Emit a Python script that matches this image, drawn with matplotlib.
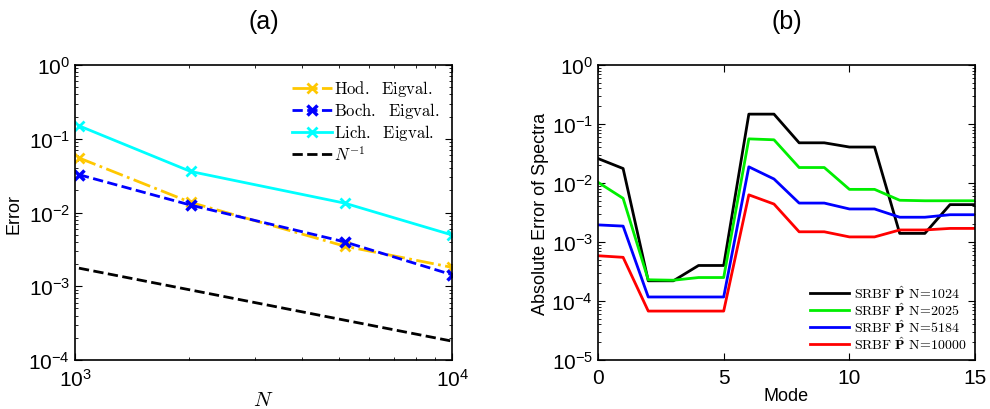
import matplotlib
matplotlib.use('Agg')
import matplotlib.pyplot as plt
from matplotlib.ticker import LogLocator, NullFormatter

plt.rcParams['mathtext.fontset'] = 'cm'
plt.rcParams['font.family'] = ['Liberation Sans', 'DejaVu Sans']

# (a) convergence data
N = [1024, 2025, 5184, 10000]
hod = [0.055, 0.0137, 0.0035, 0.0018]
boch = [0.0326, 0.0126, 0.0040, 0.00143]
lich = [0.150, 0.036, 0.0134, 0.00495]
n_inv = [0.00176, 0.00089, 0.000347, 0.00018]

# (b) spectra errors per mode
modes = list(range(16))
err_1024 = [0.026, 0.0176, 2.2e-4, 2.2e-4, 4.0e-4, 4.0e-4, 0.147, 0.147,
            0.048, 0.048, 0.0407, 0.0407, 1.4e-3, 1.4e-3, 4.3e-3, 4.3e-3]
err_2025 = [0.0103, 5.5e-3, 2.29e-4, 2.25e-4, 2.5e-4, 2.5e-4, 0.056, 0.054,
            0.0183, 0.0183, 7.8e-3, 7.8e-3, 5.1e-3, 5.0e-3, 5.0e-3, 5.0e-3]
err_5184 = [1.95e-3, 1.86e-3, 1.17e-4, 1.17e-4, 1.17e-4, 1.17e-4, 0.0188, 0.0117,
            4.57e-3, 4.57e-3, 3.63e-3, 3.63e-3, 2.63e-3, 2.63e-3, 2.9e-3, 2.9e-3]
err_10000 = [5.85e-4, 5.5e-4, 6.75e-5, 6.75e-5, 6.75e-5, 6.75e-5, 6.3e-3, 4.4e-3,
             1.49e-3, 1.49e-3, 1.22e-3, 1.22e-3, 1.6e-3, 1.6e-3, 1.7e-3, 1.7e-3]

fig = plt.figure(figsize=(9.9, 4.1), dpi=100)
ax1 = fig.add_axes([0.0758, 0.1195, 0.381, 0.7195])
ax2 = fig.add_axes([0.604, 0.1195, 0.381, 0.7195])

ax1.loglog(N, hod, color='#ffc800', linestyle='-.', marker='x', ms=7, mew=2, lw=2,
           label=r'$\mathrm{Hod.\ \ Eigval.}$')
ax1.loglog(N, boch, color='#0000ff', linestyle='--', marker='x', ms=7, mew=2.5, lw=2,
           label=r'$\mathrm{Boch.\ \ Eigval.}$')
ax1.loglog(N, lich, color='#00ffff', linestyle='-', marker='x', ms=7, mew=2, lw=2,
           label=r'$\mathrm{Lich.\ \ Eigval.}$')
ax1.loglog(N, n_inv, color='black', linestyle='--', lw=2, label=r'$N^{-1}$')
ax1.set_xlim(1000, 10000)
ax1.set_ylim(1e-4, 1)
ax1.set_xlabel(r'$N$', fontsize=15, labelpad=0)
ax1.set_ylabel('Error', fontsize=13, labelpad=4)
ax1.set_title('(a)', fontsize=18, pad=27)
ax1.legend(loc='upper right', frameon=False, fontsize=12, handlelength=2.4,
           handletextpad=0.1, labelspacing=0.12, borderaxespad=0.4)

colors = ['black', '#00ee00', '#0000ff', '#ff0000']
labels = ['1024', '2025', '5184', '10000']
for ys, c, lab in zip([err_1024, err_2025, err_5184, err_10000], colors, labels):
    ax2.semilogy(modes, ys, color=c, lw=2,
                 label=r'$\mathrm{SRBF}\ \hat{\mathbf{P}}\ \mathrm{N\!=\!' + lab + '}$')
ax2.set_xlim(0, 15)
ax2.set_ylim(1e-5, 1)
ax2.set_xticks([0, 5, 10, 15])
ax2.set_xlabel('Mode', fontsize=13, labelpad=0)
ax2.set_ylabel('Absolute Error of Spectra', fontsize=13, labelpad=2)
ax2.set_title('(b)', fontsize=18, pad=27)
ax2.legend(loc='lower right', frameon=False, fontsize=10, handlelength=2.8,
           handletextpad=0.4, labelspacing=0.0, borderaxespad=0.2)

for ax in (ax1, ax2):
    ax.yaxis.set_major_locator(LogLocator(base=10, numticks=10))
    ax.yaxis.set_minor_locator(LogLocator(base=10, subs=range(2, 10), numticks=10))
    ax.yaxis.set_minor_formatter(NullFormatter())
    ax.tick_params(which='both', direction='in', top=True, right=True, labelsize=15)
    ax.tick_params(axis='x', pad=6)
    ax.tick_params(which='major', length=5)
    ax.tick_params(which='minor', length=2.5)
    for s in ax.spines.values():
        s.set_linewidth(1.2)

fig.savefig('out.png', dpi=100)
